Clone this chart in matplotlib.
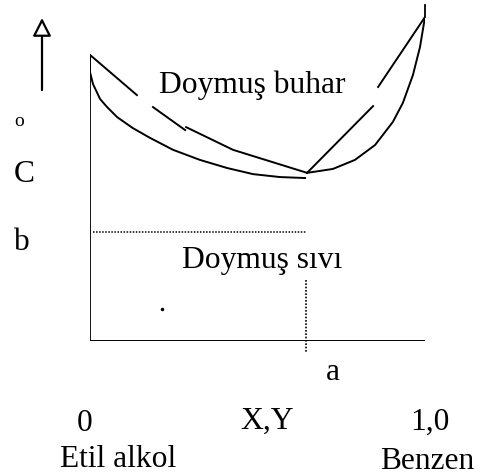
import matplotlib
matplotlib.use("Agg")
from matplotlib import pyplot as plt

plt.rcParams["font.family"] = ["Liberation Serif", "DejaVu Serif"]

W, H = 485, 476

# liquid curve (Doymus sivi), two branches meeting at the azeotrope
liq_left_x = [0.0, 0.0, 0.009, 0.030, 0.051, 0.081, 0.128, 0.179, 0.248,
              0.328, 0.409, 0.487, 0.567, 0.642]
liq_left_t = [87.7, 83.0, 79.3, 74.7, 72.2, 69.1, 65.7, 62.7, 59.0,
              55.9, 53.4, 51.5, 50.6, 50.3]
liq_right_x = [0.648, 0.725, 0.791, 0.851, 0.904, 0.934, 0.964, 0.985, 1.0]
liq_right_t = [51.9, 53.1, 55.9, 60.5, 67.6, 73.5, 82.1, 90.7, 100.0]

# vapour curve (Doymus buhar), drawn in broken pieces
vap_pieces = [
    ([0.0, 0.140], [88.3, 75.9]),
    ([0.188, 0.284], [72.2, 65.1]),
    ([0.287, 0.427, 0.648], [66.0, 59.0, 51.9]),
    ([0.648, 0.845], [51.9, 72.5]),
    ([0.860, 1.0], [78.4, 100.0]),
]

azeo_x = 0.645   # a
b_level = 33.6   # b

fig = plt.figure(figsize=(W / 100, H / 100), dpi=100)
ax = fig.add_axes([90 / W, (H - 341) / H, 335 / W, 340.2 / H])
ax.set_xlim(0, 1)
ax.set_ylim(0, 105)
ax.axis("off")

lw = 1.4
ax.plot(liq_left_x, liq_left_t, color="black", lw=lw)
ax.plot(liq_right_x, liq_right_t, color="black", lw=lw)
for xs, ts in vap_pieces:
    ax.plot(xs, ts, color="black", lw=lw)

# box
ax.plot([0, 0], [0, 88.3], color="black", lw=1.3)
ax.plot([0, 1.003], [0, 0], color="black", lw=1.4)
ax.plot([1.003, 1.003], [0, 88.9], color="black", lw=1.3)
ax.plot([1.0, 1.0], [100, 103.7], color="black", lw=1.3, clip_on=False)

# dotted guides
ax.plot([0.009, azeo_x], [b_level, b_level], color="black", lw=1.1,
        linestyle=(0, (1, 1)))
ax.plot([azeo_x, azeo_x], [18.8, -3.7], color="black", lw=1.2,
        linestyle=(0, (1, 1)), clip_on=False)
ax.plot([0.215], [9.9], marker="o", ms=1.5, color="black")


def put(s, x, y, size=22.7, va="baseline"):
    fig.text(x / W, 1 - y / H, s, ha="center", va=va, fontsize=size)


# temperature arrow
ax.annotate("", xy=(42 / W, 1 - 18 / H), xytext=(42 / W, 1 - 90 / H),
            xycoords="figure fraction", textcoords="figure fraction",
            arrowprops=dict(arrowstyle="-|>,head_length=0.55,head_width=0.28",
                            mutation_scale=20, fc="white", ec="black",
                            lw=1.6, shrinkA=0, shrinkB=0))

put("o", 19, 122, size=14, va="center")
put("C", 24, 182)
put("b", 22, 250)
put("Doymuş buhar", 252, 93)
put("Doymuş sıvı", 262, 268)
put("a", 333, 380)
put("0", 85, 431)
put("X,Y", 267, 429)
put("1,0", 430, 430)
put("Etil alkol", 118, 467)
put("Benzen", 427, 469)

fig.savefig("out.png", dpi=100)
